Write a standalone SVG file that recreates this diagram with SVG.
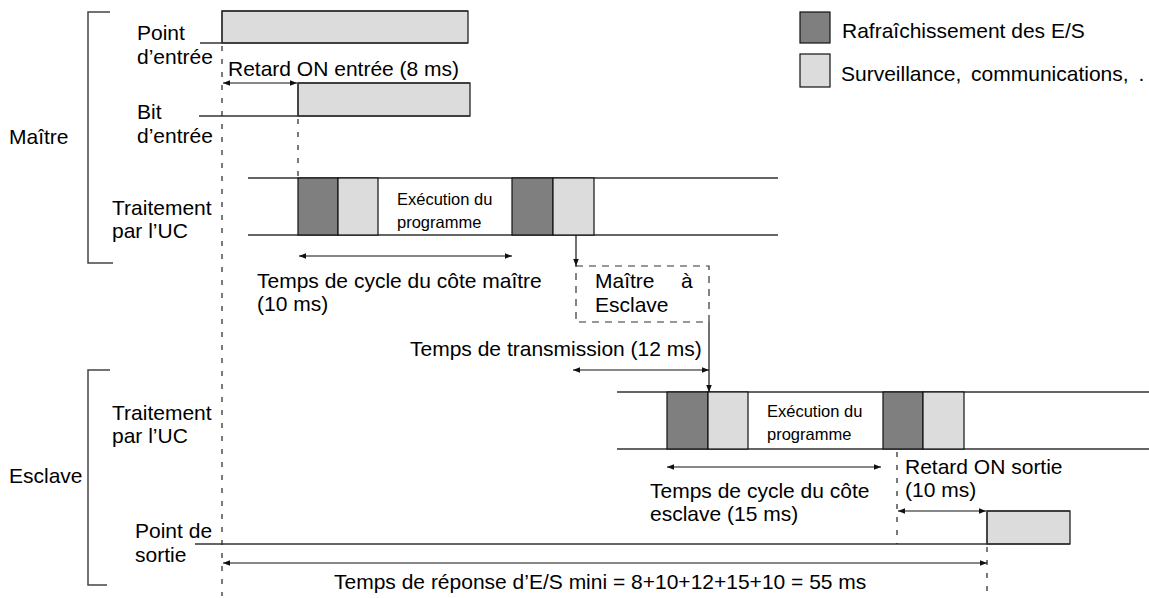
<svg xmlns="http://www.w3.org/2000/svg" width="1149" height="598" viewBox="0 0 1149 598">
<style>
text{font-family:"Liberation Sans",Arial,sans-serif;fill:#000}
.t{font-size:21px}
.s{font-size:16.5px}
.ln{stroke:#333;stroke-width:1.3;fill:none}
.br{stroke:#444;stroke-width:1.5;fill:none}
.dk{fill:#7f7f7f;stroke:#111;stroke-width:1.2}
.lt{fill:#dcdcdc;stroke:#111;stroke-width:1.2}
.dash{stroke:#222;stroke-width:1.2;stroke-dasharray:5 8;fill:none}
.box{stroke:#333;stroke-width:1.2;stroke-dasharray:7 6;fill:none}
.ar{stroke:#111;stroke-width:1.2;fill:none}
</style>
<defs>
<marker id="ah" viewBox="0 0 10 10" refX="10" refY="5" markerWidth="9" markerHeight="7" markerUnits="userSpaceOnUse" orient="auto-start-reverse">
<path d="M0,1 L10,5 L0,9 Z" fill="#111"/>
</marker>
</defs>

<g id="legend">
<rect class="dk" x="800" y="12" width="30" height="31"/>
<text class="t" x="842" y="38">Rafraîchissement des E/S</text>
<rect class="lt" x="800" y="54" width="30" height="33"/>
<text class="t" x="841" y="81" word-spacing="4">Surveillance, communications, .</text>
</g>

<g id="brackets">
<path class="br" d="M110,12 H88 V263 H113"/>
<text class="t" x="9" y="144">Maître</text>
<path class="br" d="M110,370 H88 V585 H107"/>
<text class="t" x="9" y="483">Esclave</text>
</g>

<g id="input-point">
<rect class="lt" x="222" y="11" width="246" height="32" stroke="none"/>
<path class="ln" d="M222,43 V11 H468"/>
<path class="ln" d="M200,43 H468"/>
<text class="t" x="137" y="40">Point</text>
<text class="t" x="137" y="64">d’entrée</text>
</g>

<g id="input-bit">
<rect class="lt" x="298" y="83" width="172" height="33" stroke="none"/>
<path class="ln" d="M298,116 V83 H470"/>
<path class="ln" d="M199,116 H470"/>
<text class="t" x="137" y="119">Bit</text>
<text class="t" x="137" y="143">d’entrée</text>
</g>

<g id="master-cpu">
<path class="ln" d="M248,178 H778 M248,235 H778"/>
<rect class="dk" x="298" y="178" width="40" height="57"/>
<rect class="lt" x="338" y="178" width="40" height="57"/>
<rect class="dk" x="512" y="178" width="41" height="57"/>
<rect class="lt" x="553" y="178" width="41" height="57"/>
<text class="s" x="397" y="205">Exécution du</text>
<text class="s" x="397" y="228">programme</text>
<text class="t" x="112" y="215">Traitement</text>
<text class="t" x="112" y="238">par l’UC</text>
</g>

<g id="master-to-slave">
<rect class="box" x="576" y="266" width="133" height="56"/>
<text class="t" x="595" y="288">Maître</text>
<text class="t" x="681" y="288">à</text>
<text class="t" x="595" y="312">Esclave</text>
</g>

<g id="slave-cpu">
<path class="ln" d="M617,392 H1149 M617,449 H1149"/>
<rect class="dk" x="667" y="392" width="41" height="57"/>
<rect class="lt" x="708" y="392" width="40" height="57"/>
<rect class="dk" x="883" y="392" width="40" height="57"/>
<rect class="lt" x="923" y="392" width="41" height="57"/>
<text class="s" x="767" y="417">Exécution du</text>
<text class="s" x="767" y="440">programme</text>
<text class="t" x="112" y="420">Traitement</text>
<text class="t" x="112" y="443">par l’UC</text>
</g>

<g id="output-point">
<rect class="lt" x="987" y="511" width="83" height="33" stroke="none"/>
<path class="ln" d="M987,544 V511 H1070"/>
<path class="ln" d="M195,544 H1070"/>
<text class="t" x="135" y="538">Point de</text>
<text class="t" x="135" y="562">sortie</text>
</g>

<g id="connectors">
<path class="dash" d="M222,46 V596"/>
<path class="dash" d="M298,119 V178"/>
<path class="dash" d="M897,452 V544"/>
<path class="dash" d="M987,547 V596"/>
<path class="ar" d="M223,83 H297" marker-start="url(#ah)" marker-end="url(#ah)"/>
<path class="ar" d="M299,256 H512" marker-start="url(#ah)" marker-end="url(#ah)"/>
<path class="ar" d="M576,235 V266" marker-end="url(#ah)"/>
<path class="ar" d="M709,322 V392" marker-end="url(#ah)"/>
<path class="ar" d="M573,370 H709" marker-start="url(#ah)" marker-end="url(#ah)"/>
<path class="ar" d="M667,467 H881" marker-start="url(#ah)" marker-end="url(#ah)"/>
<path class="ar" d="M898,511 H986" marker-start="url(#ah)" marker-end="url(#ah)"/>
<path class="ar" d="M223,563 H987" marker-start="url(#ah)" marker-end="url(#ah)"/>
</g>

<g id="labels">
<text class="t" x="228" y="76">Retard ON entrée (8 ms)</text>
<text class="t" x="257" y="288">Temps de cycle du côte maître</text>
<text class="t" x="257" y="311">(10 ms)</text>
<text class="t" x="410" y="356">Temps de transmission (12 ms)</text>
<text class="t" x="650" y="498">Temps de cycle du côte</text>
<text class="t" x="650" y="521">esclave (15 ms)</text>
<text class="t" x="905" y="474">Retard ON sortie</text>
<text class="t" x="905" y="497">(10 ms)</text>
<text class="t" x="334" y="589">Temps de réponse d’E/S mini = 8+10+12+15+10 = 55 ms</text>
</g>
</svg>
